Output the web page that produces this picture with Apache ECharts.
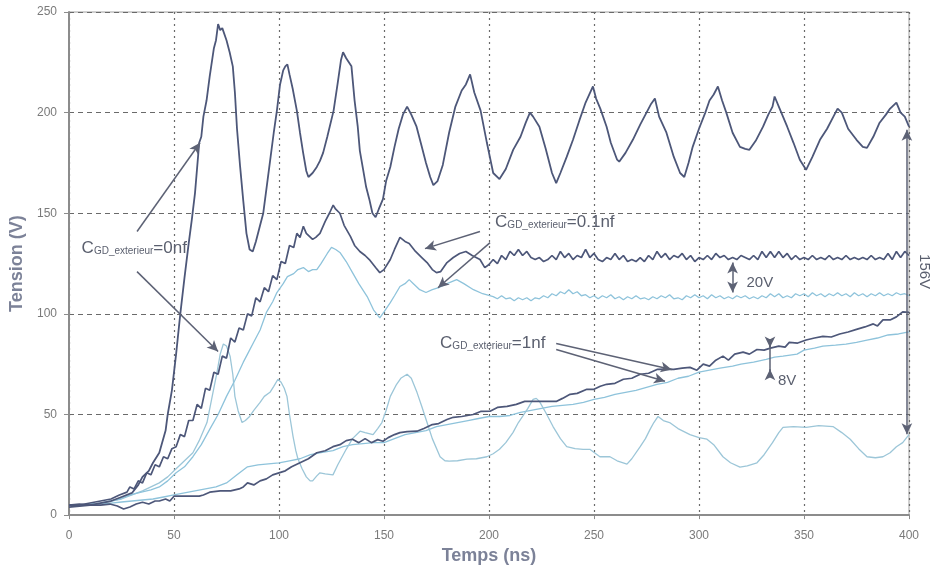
<!DOCTYPE html>
<html>
<head>
<meta charset="utf-8">
<script src="https://cdn.jsdelivr.net/npm/echarts@6/dist/echarts.min.js"></script>
<style>
  html, body { margin: 0; padding: 0; background: #fff; }
  #chart { width: 930px; height: 570px; }
</style>
</head>
<body>
<div id="chart"></div>
<script>
// Axis ticks
const timeTicks = [0, 50, 100, 150, 200, 250, 300, 350, 400];
const voltTicks = [0, 50, 100, 150, 200, 250];

// Drain voltage, C_GD_exterieur = 0 nF (dark trace) [t ns, V]
const cgd0Dark = [[0,5],[5,5.5],[10,5],[15,6],[20,7],[25,9],[30,11],[33,15],[35,19],[38,22],[40,26],[43,31],[46,42],[47,50],[49,62],[51,80],[53,100],[55,118],[57,135],[58.5,147],[60,160],[62,185],[63,188],[64,198],[65.5,206],[67,218],[69,232],[70,236],[71,244],[72,241],[73,242],[75,236],[76.5,230],[78,223],[79,210],[80,192],[81.5,173],[83,156],[84.5,140],[86,132],[87.5,131],[89,136],[91,144],[92.5,150],[94,162],[96,178],[97.5,190],[99,201],[100.5,214],[102,221],[103,223],[104,224],[105,219],[106.5,212],[108.5,201],[110,190],[111.5,180],[113,171],[114,168],[116,170],[118,173],[119.5,176],[121,180],[123,188],[126,201],[128,215],[129.5,226],[130.5,230],[132,227],[134.5,223],[136,206],[137.5,193],[138.5,181],[140,172],[141.5,163],[143,157],[144.5,150],[146,148],[147.5,152],[149.5,157],[151,166],[153,173],[155,183],[157,192],[159,199],[161,203],[163,199],[165.5,193],[168,183],[170,175],[172,168],[173.5,164],[175.5,166],[178,174],[181,190],[184,203],[187,211],[189,214],[191,219],[193,210],[196,201],[199,185],[202,170],[205,167],[208,172],[211.5,181.5],[215,188],[217.5,195],[219.5,200],[221,198],[224,193],[227,182],[230,170],[232,165],[234,170],[237,178],[240,186.5],[243,196],[246,205],[249.5,213],[251,207],[253,202],[256,193],[258,185],[261,176.6],[262,175.6],[265,180],[268.5,186.5],[272,194],[275,200],[277,204],[279,207],[281,198],[284.5,190],[288,178],[291,170],[293,168],[295,175],[297,183],[300,192],[303,200],[305,206],[307,209],[309,213],[311,206],[313,200],[316,190],[319.5,183],[322,182],[324,181.5],[327,186],[330.5,193],[333,199],[335,203],[336,208],[338,203],[342,193],[345,185],[348,176.6],[351,171.6],[354,178],[357.6,186.5],[361,192],[364,198],[366,202],[368,200],[371,192],[375,186.5],[378,183],[380,182.5],[383,188],[386,195],[389,199],[391,202],[394,205],[396,200],[398,198],[400,193]];

// C_GD_exterieur = 0 nF (light trace)
const cgd0Light = [[0,5],[5,5],[10,5.5],[15,6],[20,7],[25,8],[30,10],[35,12],[40,14.5],[43,16],[47,19],[51,23],[55,27],[59,31],[62,37],[65.7,46],[68,58],[70.5,71],[72,80],[73.5,85],[75,84],[76.7,79],[78,70],[79,59],[80.5,52],[82.4,46],[84,47],[86,49],[88,52],[91,56],[93,59],[95.7,61],[97.5,64],[99.5,67.5],[101,66],[102.5,63],[103.8,59],[105,50],[106.7,39],[108,32],[109,28],[111,23],[113,19],[114.8,17],[116,17],[118,19.5],[119.5,21],[122,20.5],[125.7,20],[128,25],[132,32.7],[135,38],[138.6,41.7],[141,41],[144.8,40],[147,43],[149,46],[151,52],[153,59],[156,65],[158,68],[161,70],[163,68],[165.7,61],[168,54],[170.5,46],[173,38],[176.7,29],[179,27],[181,26.8],[185,27],[189.5,27.8],[194,28],[199,29],[202,30.5],[205,32.7],[208,36],[211.4,41],[214,46],[216,49],[218.5,53],[221,57.5],[222.5,58],[224,56.5],[227,51],[230.5,44],[234,38],[237,34],[241,33],[244.8,32.7],[248,32.7],[252.8,29],[257.6,29],[261,27],[265.7,25.3],[268,28],[272,34],[274.5,38],[276.7,42.6],[278.5,46],[280.5,49],[283,47],[286,46],[290,43],[295.7,40],[300,38.5],[303.8,37.7],[307,35],[311.4,29],[315,26],[319.5,23.8],[323,24.5],[327.6,26],[331,30],[335,36],[338,41],[340,43.6],[345,44],[351,43.6],[357,44.5],[363.8,44],[368,41],[372,37.7],[376,33],[380,29],[384,28.5],[387.6,29],[391,31],[394,34],[397,36],[400,40]];

// C_GD_exterieur = 0.1 nF (dark trace)
const cgd01Dark = [[0,5],[5,5],[10,6],[15,7],[20,8],[24,10],[27.6,11.4],[29,14],[31,13],[33,17],[35,16],[37,21],[39,20],[41,25],[43,24],[45,29],[47,28],[49,33],[51,34],[53,40],[55,39],[57,47],[59,47],[61,55],[63,53],[65,63],[67,62],[69,71],[71,70],[73,79],[75,78],[77,88],[79,86],[81,93],[83,92],[85,100],[87,99],[89,108],[91,106],[93,113],[95,111],[97,119],[99,117],[101,126],[103,125],[105,134],[107,133],[108.5,140],[110,138],[111.6,143.5],[113,140],[116,137],[117.5,138],[119.5,140],[122,146],[124,150],[125.8,154],[127,152],[129,150],[131,144],[134,138.5],[136,134],[138.5,131],[141,129],[143,127],[146,123],[148,120.5],[150,122],[153,127],[155,132],[157.6,138],[160,136],[162,135],[165,131],[168,128],[170.5,125.5],[173,122],[175,120.5],[177,121],[180,125.5],[183,128],[186,130],[189,131],[192,129],[195.7,127],[198,123],[200,124.5],[202,127],[204,125],[206,129],[208,127],[210,131],[212,129],[214,132],[216,129],[218,131],[220,128],[222,127],[224,128],[226,126],[228,127],[230,129],[232,127],[234,131],[236,128],[238,130],[240,127],[242,129],[244,128],[246,132],[248,128],[250,130],[252,127],[254,126],[256,128],[258,127],[260,130],[262,127],[264,129],[266,126],[268,127],[270,126],[272,128],[274,126],[276,129],[278,127],[280,131],[282,128],[284,130],[286,127],[288,129],[290,128],[292,130],[294,127],[296,129],[298,126],[300,128],[302,127],[304,129],[306,127],[308,130],[310,128],[312,129],[314,127],[316,128],[318,127],[320,129],[322,128],[324,127],[326,129],[328,127],[330,131],[332,128],[334,131],[336,128],[338,131],[340,128],[342,130],[344,127],[346,129],[348,127],[350,128],[352,127],[354,129],[356,127],[358,128],[360,127],[362,129],[364,127],[366,128],[368,127],[370,129],[372,127],[374,128],[376,127],[378,128],[380,127],[382,129],[384,127],[386,128],[388,127],[390,130],[392,127],[394,131],[396,128],[398,131],[400,129]];

// C_GD_exterieur = 0.1 nF (light trace)
const cgd01Light = [[0,5],[5,5],[10,5.5],[15,6],[20,7],[24,8],[27.6,9.4],[31,10.5],[35,11.5],[39,12.5],[43,14],[47,17],[51,21],[55,24],[59,29],[63,35],[67,42.6],[71,50],[75,59],[79,67],[83,76],[85,80],[88,86],[91,92],[94,100.7],[97,106],[99,110.6],[102,115],[104,118.5],[107,120],[109,122],[111.6,123],[114,121],[116,122],[118,122],[120,125],[123,130],[125,133],[127,132],[129,130.5],[132,126],[135,120.5],[138,115],[142,108.6],[145,102],[148,98],[150,101],[153,105.6],[155,109],[157.6,113.6],[160,115],[162,117],[164,115],[167,112],[170,110.6],[173,112],[176,113],[180,115],[184.6,117],[188,115],[192.6,112],[197,110],[202,108.6],[204,107.5],[206,109],[208,107.5],[210,108],[212,106.5],[214,108],[216,107],[218,108],[220,106.5],[222,108],[224,107.5],[226,109],[228,108],[230,110],[232,109],[234,111],[236,110],[238,112],[240,110],[242,111],[244,109],[246,109.5],[248,108],[250,109],[252,107.5],[254,109],[256,108],[258,109.5],[260,107.5],[262,108.5],[264,107],[266,108.5],[268,107.5],[270,109],[272,107.5],[274,108],[276,107],[278,108.5],[280,107.5],[282,109],[284,108],[286,109.5],[288,107.5],[290,108],[292,107],[294,109],[296,108],[298,109.5],[300,108],[302,109],[304,107.5],[306,109.5],[308,108],[310,109],[312,107.5],[314,108.5],[316,107.5],[318,109],[320,108],[322,109],[324,107.5],[326,108.5],[328,107.5],[330,109],[332,108],[334,110],[336,108.5],[338,110],[340,108],[342,109],[344,108],[346,110],[348,109],[350,110],[352,108.5],[354,110.5],[356,109],[358,110],[360,108.5],[362,110],[364,109],[366,110.5],[368,109],[370,110],[372,108.5],[374,110.5],[376,109],[378,110],[380,108.5],[382,110],[384,109],[386,110.5],[388,109],[390,110],[392,109],[394,110.5],[396,109.5],[398,110],[400,109]];

// C_GD_exterieur = 1 nF (dark trace)
const cgd1Dark = [[0,4],[5,4.5],[10,5],[15,5],[19.5,5.5],[23,4.5],[26,3],[29,4],[32,5.5],[35,6.4],[38,5.5],[41,7],[43,7],[46,8],[48,7],[50,9.4],[55,9.4],[62,9.4],[64,10],[67,11.4],[72,12],[77,12],[81,13],[83,14],[85,16],[88,15],[91,17],[94,18],[97,20],[100,21],[103,22],[106,24],[110,26],[114,28],[118,31],[122,32],[125.7,34],[129,35],[132,37],[135,37.7],[138,36],[141,38],[144,36],[147,37.5],[149.5,36.7],[152,38.5],[155,40],[157.6,41],[161,41.5],[165.7,41.7],[169,43],[173,45],[176,45.5],[180,47.5],[183,48.6],[187,49],[192.4,50],[196,51.5],[200.5,51.6],[204,53.5],[208.6,54],[213,55],[217,56.5],[221,56.5],[224,56.5],[228,56.5],[232,56.5],[235,58],[238.6,60],[242,60.5],[246.6,62.5],[250,62.5],[253,64],[256,65],[260,65.5],[264,67.5],[268,68],[272,70],[276,70.5],[280,72.4],[284,72.5],[288,72.4],[292,73],[295.7,73.4],[299,72],[302,75],[305,74],[308,77],[311.4,79],[314,77],[317,80],[321,81],[324,80],[327.6,82.3],[331,82],[334,83],[338,84],[341,83.5],[343,85.8],[347,85.5],[351,87],[355,88],[359,88.8],[363,88.5],[367,90],[371,91],[375,92.3],[379,93.5],[383,95],[385,94],[387.6,97],[391,97],[394,98.5],[397,101],[400,100.7]];

// C_GD_exterieur = 1 nF (light trace)
const cgd1Light = [[0,5],[5,5],[10,5],[15,5.5],[20,6],[25,6.5],[30,7],[35,7.5],[40,8],[45,9],[50,10],[55,11],[60,12],[65,13],[70,14],[75,16],[80,20],[85,24],[90,25],[95,25.5],[100,26],[105,27],[110,28],[115,30],[120,31],[125.7,32],[130.5,34],[135,35],[140,35.5],[145,36],[150,36],[155,38],[160,40],[165,41],[170,42],[175,44],[180,45],[185,46],[190,47],[195,48],[200,49],[205,49],[210,49.5],[215,51],[220,52],[225,53],[230,54],[235,54.5],[240,55],[245,56],[250,57.5],[255,58.5],[260,60],[265,61],[270,62],[275,63.5],[280,65],[285,66],[290,68],[295,69],[300,71],[305,72],[310,73],[316,74],[320,75],[326,76],[332,77.4],[336,78.5],[340,79],[346.7,80],[350,82],[355,83],[359,84],[365,84.5],[370,85],[375,85.8],[380,87],[385,88],[390,89.5],[395,90],[400,91]];

// Annotation arrows, in data units: [fromT, fromV, toT, toV, headAtStart, headAtEnd]
const arrowLines = [
  [32.4, 140.9, 62.4, 185, false, true],
  [32.4, 121, 71, 81.3, false, true],
  [195.7, 140.9, 169.5, 132.4, false, true],
  [200.5, 135.4, 175.7, 113, false, true],
  [232, 85.3, 287, 72.4, false, true],
  [232, 82.3, 283.8, 66.5, false, true],
  [316, 125.5, 316, 110.6, true, true],
  [399, 191.5, 399, 40.2, true, true],
  [333.8, 87.5, 333.8, 83.3, false, true],
  [333.8, 68.5, 333.8, 72.5, false, true],
  [333.8, 87.5, 333.8, 68.5, false, false]
];

// Annotation labels: [t, V, text]
const labelsCgd = [
  [6.0, 133, '0nf'],
  [202.9, 145.8, '0.1nf'],
  [176.7, 85.8, '1nf']
];
const labelsDelta = [
  [322.6, 115.6, '20V'],
  [337.6, 66.5, '8V']
];
const label156 = [407, 121, '156V'];

const DARK = '#4d5779';
const LIGHT = '#8ec3db';
const TXT = '#5a5f6e';

const chart = echarts.init(document.getElementById('chart'), null, { renderer: 'canvas' });

function traceSeries(name, data, color, width) {
  return {
    name, type: 'line', data, symbol: 'none', smooth: false,
    lineStyle: { color, width }, silent: true, z: 3, animation: false
  };
}

const markData = arrowLines.map(a => [
  { coord: [a[0], a[1]], symbol: a[4] ? 'arrow' : 'none' },
  { coord: [a[2], a[3]], symbol: a[5] ? 'arrow' : 'none' }
]);

const fontFam = 'Liberation Sans, Arial, sans-serif';

const option = {
  animation: false,
  backgroundColor: '#ffffff',
  grid: { left: 69, top: 12, right: 21, bottom: 54, show: true, borderColor: '#a0a0a0', borderWidth: 1 },
  xAxis: {
    type: 'value', min: timeTicks[0], max: timeTicks[timeTicks.length - 1], interval: 50,
    name: 'Temps (ns)', nameLocation: 'middle', nameGap: 31,
    nameTextStyle: { fontFamily: fontFam, fontSize: 18, fontWeight: 'bold', color: '#7c8298' },
    axisLine: { lineStyle: { color: '#8c8c8c', width: 2 } },
    axisTick: { show: true, length: 4, lineStyle: { color: '#8c8c8c' } },
    axisLabel: { color: '#7a7a7a', fontSize: 12, fontFamily: fontFam, margin: 15 },
    splitLine: { show: true, lineStyle: { color: '#6a6a6a', type: [2, 4], width: 1.2 } }
  },
  yAxis: {
    type: 'value', min: voltTicks[0], max: voltTicks[voltTicks.length - 1], interval: 50,
    name: 'Tension (V)', nameLocation: 'middle', nameGap: 40,
    nameTextStyle: { fontFamily: fontFam, fontSize: 18, fontWeight: 'bold', color: '#7c8298' },
    axisLine: { show: true, lineStyle: { color: '#8c8c8c', width: 2 } },
    axisTick: { show: true, length: 5, lineStyle: { color: '#8c8c8c' } },
    axisLabel: { color: '#7a7a7a', fontSize: 12, fontFamily: fontFam, margin: 12 },
    splitLine: { show: true, lineStyle: { color: '#6a6a6a', type: [5, 4], width: 1.2 } }
  },
  series: [
    traceSeries('cgd1Light', cgd1Light, LIGHT, 1.3),
    traceSeries('cgd0Light', cgd0Light, '#9cc6d8', 1.3),
    traceSeries('cgd01Light', cgd01Light, LIGHT, 1.3),
    traceSeries('cgd1Dark', cgd1Dark, DARK, 1.7),
    traceSeries('cgd01Dark', cgd01Dark, DARK, 1.7),
    Object.assign(traceSeries('cgd0Dark', cgd0Dark, DARK, 1.8), {
      markLine: {
        silent: true, animation: false, symbolSize: [8, 11], precision: 2,
        label: { show: false },
        lineStyle: { color: '#5d6275', width: 1.5, type: 'solid' },
        data: markData
      }
    })
  ]
};
chart.setOption(option);

// Text annotations placed from data coordinates
const gfx = [];
labelsCgd.forEach(l => {
  const p = chart.convertToPixel({ gridIndex: 0 }, [l[0], l[1]]);
  gfx.push({
    type: 'text', x: p[0], y: p[1], z: 10, silent: true,
    style: {
      text: '{c|C}{s|GD_exterieur}{c|=' + l[2] + '}',
      verticalAlign: 'middle',
      rich: {
        c: { fontSize: 17, fontFamily: fontFam, fill: TXT, color: TXT, verticalAlign: 'bottom', lineHeight: 18 },
        s: { fontSize: 10, fontFamily: fontFam, fill: TXT, color: TXT, verticalAlign: 'bottom', lineHeight: 12 }
      }
    }
  });
});
labelsDelta.forEach(l => {
  const p = chart.convertToPixel({ gridIndex: 0 }, [l[0], l[1]]);
  gfx.push({
    type: 'text', x: p[0], y: p[1], z: 10, silent: true,
    style: { text: l[2], font: '15px ' + fontFam, fill: TXT, verticalAlign: 'middle' }
  });
});
{
  const p = chart.convertToPixel({ gridIndex: 0 }, [label156[0], label156[1]]);
  gfx.push({
    type: 'text', x: p[0], y: p[1], rotation: -Math.PI / 2, z: 10, silent: true,
    style: { text: label156[2], font: '15px ' + fontFam, fill: TXT, align: 'center', verticalAlign: 'middle' }
  });
}
chart.setOption({ graphic: gfx });
</script>
</body>
</html>
